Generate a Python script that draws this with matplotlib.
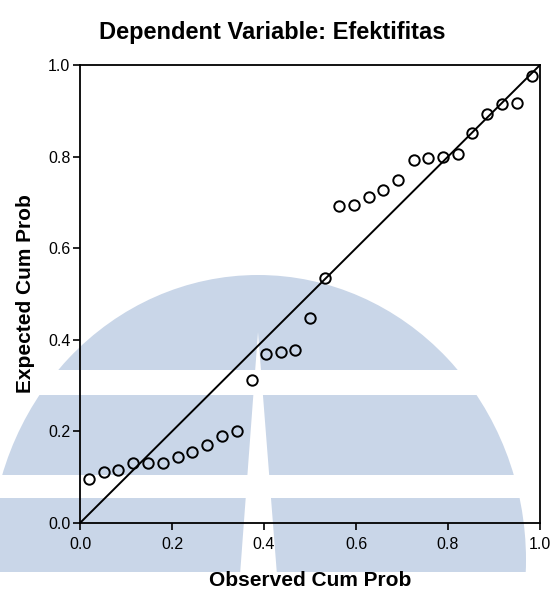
import matplotlib

matplotlib.use("Agg")
import matplotlib.pyplot as plt
from matplotlib.patches import Ellipse, Rectangle, Polygon

# P-P plot of regression standardized residuals
observed = [0.020, 0.052, 0.083, 0.115, 0.147, 0.180, 0.212, 0.244, 0.276,
            0.309, 0.341, 0.373, 0.404, 0.436, 0.468, 0.500, 0.532, 0.564,
            0.595, 0.628, 0.659, 0.692, 0.725, 0.757, 0.789, 0.821, 0.853,
            0.885, 0.917, 0.949, 0.983]
expected = [0.095, 0.111, 0.116, 0.130, 0.130, 0.132, 0.145, 0.154, 0.171,
            0.190, 0.201, 0.312, 0.370, 0.373, 0.378, 0.447, 0.534, 0.693,
            0.694, 0.712, 0.727, 0.750, 0.793, 0.796, 0.799, 0.805, 0.851,
            0.892, 0.914, 0.916, 0.976]
ticks = [0.0, 0.2, 0.4, 0.6, 0.8, 1.0]
tick_labels = ["0.0", "0.2", "0.4", "0.6", "0.8", "1.0"]

W, H = 551, 594
fig = plt.figure(figsize=(W / 100, H / 100), dpi=100)
plt.rcParams["font.family"] = ["Liberation Sans", "DejaVu Sans"]

# background watermark, drawn in pixel coords (origin top-left)
wm = fig.add_axes([0, 0, 1, 1], zorder=0)
wm.set_xlim(0, W)
wm.set_ylim(H, 0)
wm.axis("off")
wm_color = "#c9d6e8"
dome = Ellipse((258, 560), 536, 570, facecolor=wm_color, edgecolor="none")
wm.add_patch(dome)
dome.set_clip_path(Rectangle((0, 0), W, 572, transform=wm.transData))
for y0, y1 in [(370, 395), (475, 498)]:
    wm.add_patch(Rectangle((0, y0), W, y1 - y0, facecolor="white",
                           edgecolor="none"))
wm.add_patch(Polygon([(258, 332), (240, 575), (277, 575)],
                     facecolor="white", edgecolor="none"))

ax = fig.add_axes([80 / W, (H - 523) / H, 460 / W, 458 / H], zorder=1)
ax.patch.set_alpha(0)
ax.plot([0, 1], [0, 1], color="black", linewidth=1.4)
ax.plot(observed, expected, linestyle="none", marker="o", markersize=7.5,
        markerfacecolor="none", markeredgecolor="black", markeredgewidth=1.4)

ax.set_xlim(0, 1)
ax.set_ylim(0, 1)
ax.set_xticks(ticks)
ax.set_xticklabels(tick_labels)
ax.set_yticks(ticks)
ax.set_yticklabels(tick_labels)
ax.tick_params(direction="out", length=5, width=1.2, labelsize=11.5,
               colors="black", pad=2)
ax.tick_params(axis="x", pad=5)
for spine in ax.spines.values():
    spine.set_linewidth(1.3)

ax.set_xlabel("Observed Cum Prob", fontsize=15, fontweight="bold")
ax.set_ylabel("Expected Cum Prob", fontsize=15, fontweight="bold")
ax.xaxis.set_label_coords(0.5, -0.104)
ax.yaxis.set_label_coords(-0.098, 0.5)

fig.text(272 / W, 1 - 33 / H, "Dependent Variable: Efektifitas",
         ha="center", va="center", fontsize=17, fontweight="bold")

fig.savefig("out.png", dpi=100)
